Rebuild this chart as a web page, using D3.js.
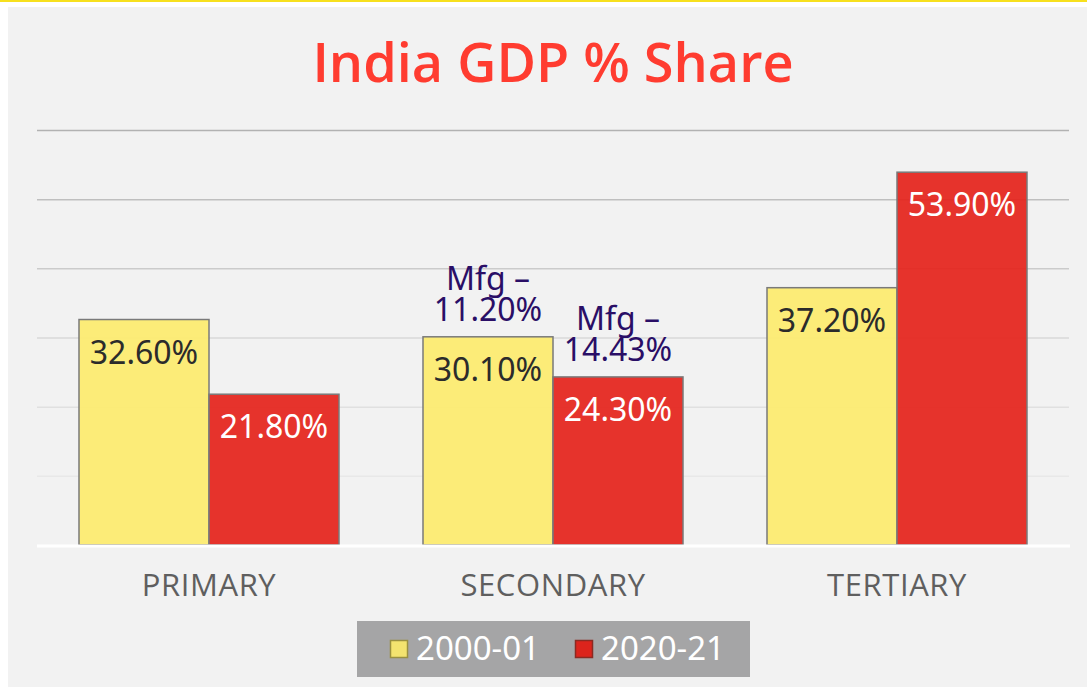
<!DOCTYPE html>
<html>
<head>
<meta charset="utf-8">
<title>India GDP % Share</title>
<script src="https://cdn.jsdelivr.net/npm/d3@7"></script>
<style>
  html, body { margin: 0; padding: 0; background: #fff; }
  svg { display: block; }
</style>
</head>
<body>
<script>
/* global d3 */
(function () {
  'use strict'

  // Data
  var categories = ['PRIMARY', 'SECONDARY', 'TERTIARY']
  var seriesNames = ['2000-01', '2020-21']
  var share2000 = [32.6, 30.1, 37.2]
  var share2020 = [21.8, 24.3, 53.9]
  var mfg2000 = [null, 11.2, null]
  var mfg2020 = [null, 14.43, null]
  var yTicks = [0, 10, 20, 30, 40, 50, 60]

  var colors = ['#fdec6e', '#e5231b']
  var swatch = ['#f3e36f', '#dc241c']
  var labelColors = ['#2b2b2b', '#ffffff']

  var dim = { w: 1087, h: 687 }
  var plot = { left: 37, right: 1069, top: 130, bottom: 545 }

  var svg = d3.select('body').append('svg')
    .attr('width', dim.w)
    .attr('height', dim.h)

  // frame
  svg.append('rect').attr('x', 0).attr('y', 0)
    .attr('width', dim.w).attr('height', dim.h).attr('fill', '#ffffff')
  svg.append('rect').attr('x', 0).attr('y', 0)
    .attr('width', dim.w).attr('height', 2).attr('fill', '#f7e01e')
  svg.append('rect').attr('x', 8).attr('y', 7)
    .attr('width', dim.w - 8).attr('height', dim.h - 7).attr('fill', '#f2f2f2')

  svg.append('text')
    .attr('x', 553).attr('y', 82)
    .attr('text-anchor', 'middle')
    .attr('font-family', '"Open Sans", sans-serif')
    .attr('font-weight', 600)
    .attr('font-size', 54)
    .attr('fill', '#ff3c30')
    .text('India GDP % Share')

  var x0 = d3.scaleBand().domain(categories)
    .range([plot.left, plot.right])
    .paddingInner(84 / 344).paddingOuter(42 / 344)
  var x1 = d3.scaleBand().domain(seriesNames)
    .range([0, x0.bandwidth()])
  var y = d3.scaleLinear().domain([0, 60]).range([plot.bottom, plot.top])

  var gridColor = d3.scaleLinear().domain([10, 30, 60])
    .range(['#e8e8e8', '#d8d8d8', '#b2b2b2'])

  // gridlines
  svg.append('g').selectAll('line')
    .data(yTicks.filter(function (d) { return d > 0 }))
    .enter().append('line')
      .attr('x1', plot.left).attr('x2', plot.right)
      .attr('y1', function (d) { return y(d) + 0.5 })
      .attr('y2', function (d) { return y(d) + 0.5 })
      .attr('stroke', function (d) { return gridColor(d) })
      .attr('stroke-width', 1.5)

  var rows = categories.map(function (c, i) {
    return {
      cat: c,
      vals: [
        { s: 0, v: share2000[i], mfg: mfg2000[i] },
        { s: 1, v: share2020[i], mfg: mfg2020[i] }
      ]
    }
  })

  var groups = svg.append('g').selectAll('g')
    .data(rows)
    .enter().append('g')
      .attr('transform', function (d) { return 'translate(' + x0(d.cat) + ',0)' })

  var bars = groups.selectAll('g')
    .data(function (d) { return d.vals })
    .enter().append('g')

  bars.append('rect')
    .attr('x', function (d) { return x1(seriesNames[d.s]) })
    .attr('y', function (d) { return y(d.v) })
    .attr('width', x1.bandwidth())
    .attr('height', function (d) { return y(0) - y(d.v) })
    .attr('fill', function (d) { return colors[d.s] })
    .attr('fill-opacity', 0.92)
    .attr('stroke', '#7a7a7a')
    .attr('stroke-width', 1.5)

  bars.append('text')
    .attr('x', function (d) { return x1(seriesNames[d.s]) + x1.bandwidth() / 2 })
    .attr('y', function (d) { return y(d.v) + 44 })
    .attr('text-anchor', 'middle')
    .attr('font-family', '"Noto Sans", sans-serif')
    .attr('font-size', 32)
    .attr('fill', function (d) { return labelColors[d.s] })
    .text(function (d) { return d.v.toFixed(2) + '%' })

  var mfg = bars.filter(function (d) { return d.mfg !== null })
    .append('text')
      .attr('text-anchor', 'middle')
      .attr('font-family', '"Noto Sans", sans-serif')
      .attr('font-size', 32)
      .attr('fill', '#2a0e66')
  mfg.append('tspan')
    .attr('x', function (d) { return x1(seriesNames[d.s]) + x1.bandwidth() / 2 })
    .attr('y', function (d) { return y(d.v) - 47 })
    .text('Mfg \u2013')
  mfg.append('tspan')
    .attr('x', function (d) { return x1(seriesNames[d.s]) + x1.bandwidth() / 2 })
    .attr('y', function (d) { return y(d.v) - 16 })
    .text(function (d) { return d.mfg.toFixed(2) + '%' })

  // baseline
  svg.append('line')
    .attr('x1', plot.left).attr('x2', plot.right + 1)
    .attr('y1', y(0) + 1).attr('y2', y(0) + 1)
    .attr('stroke', '#ffffff').attr('stroke-width', 3)

  // category axis
  var axis = svg.append('g')
    .attr('transform', 'translate(0,' + (y(0) + 1) + ')')
    .call(d3.axisBottom(x0).tickSize(0).tickPadding(28))
  axis.select('.domain').remove()
  axis.selectAll('text')
    .attr('font-family', '"Open Sans", sans-serif')
    .attr('font-size', 31)
    .attr('letter-spacing', 0.6)
    .attr('fill', '#5f5f5f')
    .attr('dy', '0.71em')

  // legend
  var legend = svg.append('g').attr('transform', 'translate(357,621)')
  legend.append('rect')
    .attr('width', 393).attr('height', 56).attr('fill', '#a5a5a6')
  var items = legend.selectAll('g.item')
    .data(seriesNames)
    .enter().append('g')
      .attr('class', 'item')
      .attr('transform', function (d, i) { return 'translate(' + (33 + i * 185) + ',0)' })
  items.append('rect')
    .attr('x', 0.5).attr('y', 19.5)
    .attr('width', 17).attr('height', 17)
    .attr('fill', function (d, i) { return swatch[i] })
    .attr('stroke', function (d, i) { return i ? '#8a2a22' : '#9a9040' })
    .attr('stroke-width', 1.5)
  items.append('text')
    .attr('x', 26).attr('y', 39)
    .attr('font-family', '"Noto Sans", sans-serif')
    .attr('font-size', 33)
    .attr('fill', '#ffffff')
    .text(function (d) { return d })
}())
</script>
</body>
</html>
